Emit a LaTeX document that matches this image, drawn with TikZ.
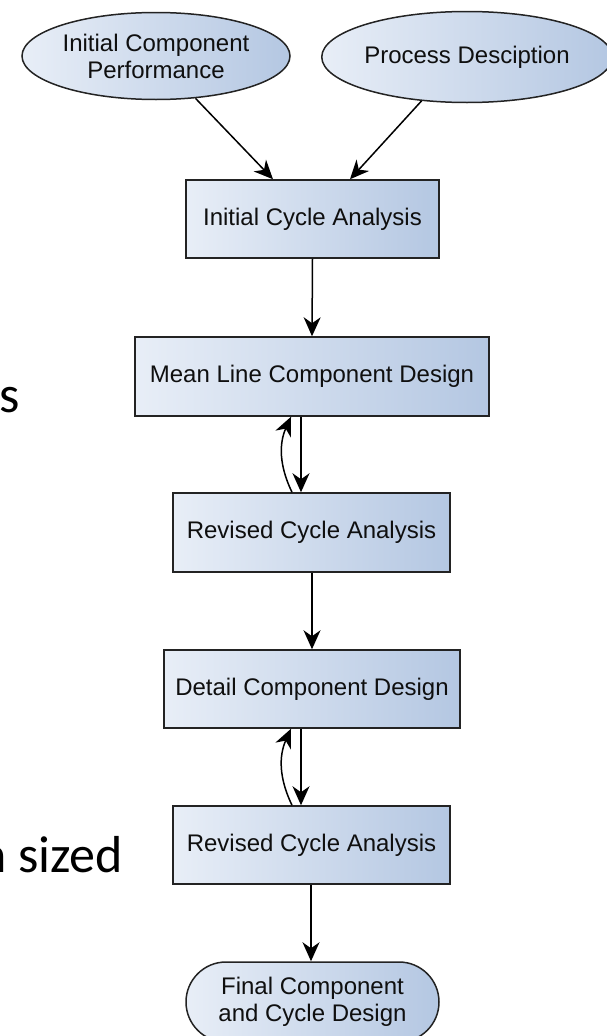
\documentclass[tikz,border=0pt]{standalone}
\usepackage{fontspec}
\setmainfont{Liberation Sans}
\newfontfamily\calib{Carlito}
\usetikzlibrary{shapes.geometric,shapes.misc,arrows.meta}
\definecolor{fillL}{RGB}{232,238,247}
\definecolor{fillR}{RGB}{180,199,226}
\definecolor{edge}{RGB}{35,35,35}
\definecolor{txt}{RGB}{15,15,15}
\tikzset{
  base/.style={draw=edge, line width=1.5pt, left color=fillL, right color=fillR,
    inner sep=0pt, text=txt, align=center, font=\fontsize{24}{27}\selectfont},
  procbox/.style={base, rectangle},
  inbox/.style={base, ellipse},
  endbox/.style={base, rounded rectangle},
  arr/.style={draw=black, line width=1.5pt, -{Stealth[length=19pt,width=17pt,inset=6pt]}},
  slidetext/.style={font=\calib\fontsize{52}{60}\selectfont, inner sep=0pt, anchor=base west}
}
\begin{document}
\begin{tikzpicture}[x=1pt,y=-1pt]
\useasboundingbox (0,0) rectangle (607,1036);
\node[slidetext] (sA) at (-1,412) {s};
\node[slidetext] (sB) at (-21,872) {n sized};

\node[inbox, minimum width=268pt, minimum height=87pt] (e1) at (156,56) {Initial Component\\Performance};
\node[inbox, minimum width=276pt, minimum height=91pt] (e2) at (467,57) {Process Desciption};
\node[procbox, minimum width=253pt, minimum height=78pt] (b1) at (312.5,219) {Initial Cycle Analysis};
\node[procbox, minimum width=354pt, minimum height=79pt] (b2) at (312,376.5) {Mean Line Component Design};
\node[procbox, minimum width=277pt, minimum height=79pt] (b3) at (311.5,532.5) {Revised Cycle Analysis};
\node[procbox, minimum width=296pt, minimum height=78pt] (b4) at (312,689) {Detail Component Design};
\node[procbox, minimum width=277pt, minimum height=78pt] (b5) at (311.5,845) {Revised Cycle Analysis};
\node[endbox, minimum width=253pt, minimum height=80pt] (t) at (312.5,1002) {Final Component\\and Cycle Design};

\draw[arr] (e1.-47) -- ([xshift=-39.5pt]b1.north);
\draw[arr] (e2.-136) -- ([xshift=37.5pt]b1.north);
\draw[arr] (b1.south) -- (b2.north);
\draw[arr] ([xshift=-11pt]b2.south) -- ([xshift=-10.5pt]b3.north);
\draw[arr] ([xshift=-19.5pt]b3.north) to[bend left=25] ([xshift=-21pt]b2.south);
\draw[arr] ([xshift=0.5pt]b3.south) -- ([xshift=0pt]b4.north);
\draw[arr] ([xshift=-11pt]b4.south) -- ([xshift=-10.5pt]b5.north);
\draw[arr] ([xshift=-19.5pt]b5.north) to[bend left=25] ([xshift=-21pt]b4.south);
\draw[arr] ([xshift=-0.5pt]b5.south) -- ([xshift=-1.5pt]t.north);
\end{tikzpicture}
\end{document}
